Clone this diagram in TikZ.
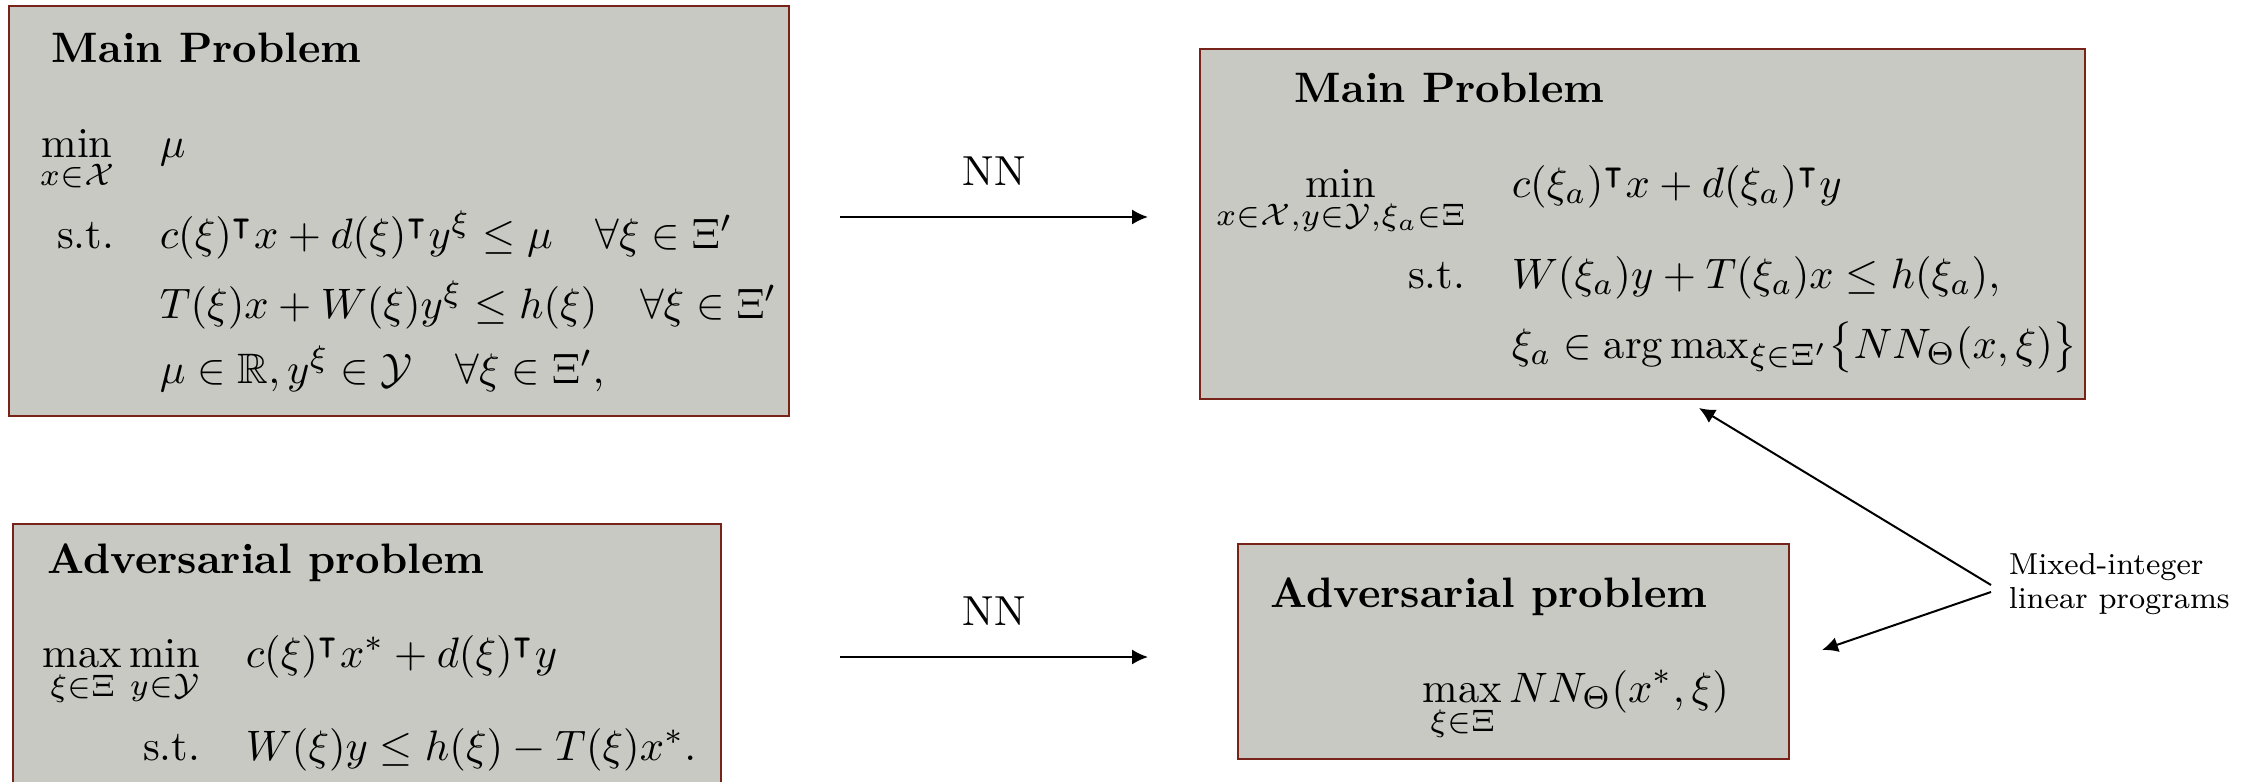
\RequirePackage{fix-cm}
\documentclass[tikz,border=0pt]{standalone}
\usepackage{amsmath,amssymb}
\usepackage{fontspec}
\usetikzlibrary{arrows.meta,calc}
\definecolor{boxfill}{RGB}{201,201,196}
\definecolor{boxline}{RGB}{120,35,25}
\DeclareMathSizes{10.65}{10.65}{7.8}{5.85}

\begin{document}
\begin{tikzpicture}[x=0.25pt,y=-0.25pt,
  probbox/.style={draw=boxline,fill=boxfill,line width=0.6pt,anchor=north west,inner sep=0},
  heading/.style={anchor=base west,inner sep=0,font=\fontsize{10.65}{13}\selectfont\bfseries},
  mathleft/.style={anchor=base west,inner sep=0,font=\fontsize{10.65}{13}\selectfont},
  mathright/.style={anchor=base east,inner sep=0,font=\fontsize{10.65}{13}\selectfont},
  flow/.style={-{Latex[length=4pt,width=3.8pt]},line width=0.5pt},
  arrowlabel/.style={anchor=base,inner sep=0,font=\fontsize{10.5}{12}\selectfont}]

\clip (0,0) rectangle (2253,782);
\fill[white] (0,0) rectangle (2253,782);

% ---- original main problem (top left) ----
\node[probbox,minimum width=195.1pt,minimum height=102.5pt] (mainL) at (7.6,5) {};
\node[heading] (tML) at (51,63) {Main Problem};
\node[mathright] (minL) at (115,157) {$\displaystyle\min_{x\in\mathcal{X}}$};
\node[mathleft] (objL) at (159,157) {$\mu$};
\node[mathright] (stL) at (115,248) {s.t.};
\node[mathleft] (c1L) at (159,248) {$c(\xi)^{\intercal}x+d(\xi)^{\intercal}y^{\xi}\le\mu\quad\forall\xi\in\Xi'$};
\node[mathleft] (c2L) at (159,318) {$T(\xi)x+W(\xi)y^{\xi}\le h(\xi)\quad\forall\xi\in\Xi'$};
\node[mathleft] (c3L) at (159,383) {$\mu\in\mathbb{R},y^{\xi}\in\mathcal{Y}\quad\forall\xi\in\Xi',$};

% ---- reformulated main problem (top right) ----
\node[probbox,minimum width=221.25pt,minimum height=87.5pt] (mainR) at (1199,48) {};
\node[heading] (tMR) at (1294,102) {Main Problem};
\node[mathright] (minR) at (1466,197) {$\displaystyle\min_{x\in\mathcal{X},y\in\mathcal{Y},\xi_a\in\Xi}$};
\node[mathleft] (objR) at (1511,197) {$c(\xi_a)^{\intercal}x+d(\xi_a)^{\intercal}y$};
\node[mathright] (stR) at (1466,288) {s.t.};
\node[mathleft] (c1R) at (1511,288) {$W(\xi_a)y+T(\xi_a)x\le h(\xi_a),$};
\node[mathleft] (c2R) at (1511,358) {$\xi_a\in\arg\max\nolimits_{\xi\in\Xi'}\!\big\{NN_{\Theta}(x,\xi)\big\}$};

% ---- original adversarial problem (bottom left) ----
\node[probbox,minimum width=177pt,minimum height=74.25pt] (advL) at (12,523) {};
\node[heading] (tAL) at (47,573) {Adversarial problem};
\node[mathright] (mmL) at (201,667) {$\displaystyle\max_{\xi\in\Xi}\min_{y\in\mathcal{Y}}$};
\node[mathleft] (objA) at (245,667) {$c(\xi)^{\intercal}x^{*}+d(\xi)^{\intercal}y$};
\node[mathright] (stA) at (201,760) {s.t.};
\node[mathleft] (c1A) at (245,760) {$W(\xi)y\le h(\xi)-T(\xi)x^{*}.$};

% ---- network-based adversarial problem (bottom right) ----
\node[probbox,minimum width=137.75pt,minimum height=53.75pt] (advR) at (1237,543) {};
\node[heading] (tAR) at (1270,607) {Adversarial problem};
\node[mathleft] (objAR) at (1422,702) {$\displaystyle\max_{\xi\in\Xi}NN_{\Theta}(x^{*},\xi)$};

% ---- NN transformation arrows ----
\coordinate (n1s) at (840,217);
\coordinate (n1e) at (1148,217);
\coordinate (n2s) at (840,657);
\coordinate (n2e) at (1148,657);
\draw[flow] (n1s) -- (n1e);
\draw[flow] (n2s) -- (n2e);
\node[arrowlabel] (nn1) at (994,185) {NN};
\node[arrowlabel] (nn2) at (994,625) {NN};

% ---- MILP annotation ----
\node[anchor=base west,inner sep=0,font=\fontsize{7.6}{8.6}\selectfont] (milp) at (2008,574)
  {\begin{tabular}[t]{@{}l@{}}Mixed-integer\\linear programs\end{tabular}};
\coordinate (m1) at (1991,585);
\coordinate (m2) at (1991,592);
\coordinate (t1) at (1699,408);
\coordinate (t2) at (1822,650);
\draw[flow] (m1) -- (t1);
\draw[flow] (m2) -- (t2);
\end{tikzpicture}
\end{document}
